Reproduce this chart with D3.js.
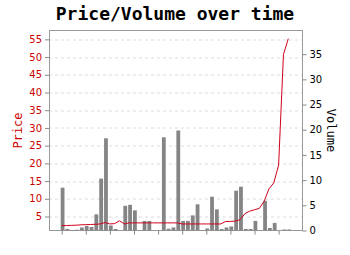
<!DOCTYPE html>
<html>
<head>
<meta charset="utf-8">
<script src="https://cdn.jsdelivr.net/npm/d3@7"></script>
<style>
  body { margin: 0; background: #fff; }
  svg { display: block; }
</style>
</head>
<body>
<div id="chart"></div>
<script>
// one entry per day, index = day number
const volume = [8.5, 0.3, 0.1, 0.15, 0.6, 0.9, 0.7, 3.2, 10.3, 18.3, 1.0, 0.3, 0, 4.9, 5.1, 4.0,
    0, 1.9, 1.9, 0, 0, 18.5, 0.35, 0.6, 19.85, 1.9, 1.9, 3.0, 5.2, 0.1, 0.4, 6.7,
    4.2, 0.3, 0.6, 0.8, 7.9, 8.7, 0.3, 0.3, 1.9, 0, 5.9, 0.5, 1.5, 0, 0.2, 0.2];
const price = [2.4, 2.45, 2.5, 2.55, 2.65, 2.7, 2.75, 2.8, 2.9, 3.3, 2.9, 3.0, 3.8, 2.9, 3.2, 3.2,
    3.2, 3.2, 3.2, 3.2, 3.2, 3.2, 3.2, 3.2, 3.2, 2.9, 2.9, 2.9, 2.9, 2.9, 2.9, 2.9,
    2.9, 2.9, 3.6, 3.6, 3.7, 4.1, 5.8, 6.5, 6.9, 7.3, 9.3, 12.8, 14.5, 19.5, 50.7, 55.2];
const days = d3.range(volume.length);
const priceTicks = [5, 10, 15, 20, 25, 30, 35, 40, 45, 50, 55];
const volumeTicks = [0, 5, 10, 15, 20, 25, 30, 35];

const W = 350, H = 255;
const margin = { top: 30.5, right: 48, bottom: 24.5, left: 49 };
const width = W - margin.left - margin.right;
const height = H - margin.top - margin.bottom;

const svg = d3.select("#chart").append("svg")
    .attr("width", W)
    .attr("height", H);

svg.append("text")
    .attr("x", W / 2)
    .attr("y", 20)
    .attr("text-anchor", "middle")
    .style("font-family", "'DejaVu Sans Mono', monospace")
    .style("font-weight", "bold")
    .style("font-size", "18px")
    .text("Price/Volume over time");

const g = svg.append("g")
    .attr("transform", "translate(" + margin.left + "," + margin.top + ")");

const x = d3.scaleLinear()
    .domain([-2.63, 49.85])
    .range([0, width]);

const yPrice = d3.scaleLinear()
    .domain([1.05, 57.5])
    .range([height, 0]);

const yVol = d3.scaleLinear()
    .domain([0, d3.max(volume) * 2])
    .range([height, 0]);

// grid
g.selectAll(".grid")
    .data(priceTicks)
    .enter().append("line")
    .attr("class", "grid")
    .attr("x1", 0)
    .attr("x2", width)
    .attr("y1", d => Math.round(yPrice(d)) + 0.5)
    .attr("y2", d => Math.round(yPrice(d)) + 0.5)
    .style("stroke", "#dcdcdc")
    .style("stroke-dasharray", "3,3");

// frame
g.append("rect")
    .attr("x", 0.5)
    .attr("y", 0)
    .attr("width", width)
    .attr("height", height)
    .style("fill", "none")
    .style("stroke", "#999");

// volume bars
const bw = 3.8;
g.selectAll(".bar")
    .data(days)
    .enter().append("rect")
    .attr("class", "bar")
    .attr("x", d => x(d) - 1)
    .attr("width", bw)
    .attr("y", d => yVol(volume[d]))
    .attr("height", d => height - yVol(volume[d]))
    .style("fill", "#858585");

// price line
const line = d3.line()
    .x(d => x(d))
    .y(d => yPrice(price[d]));

g.append("path")
    .datum(days)
    .attr("d", line)
    .style("fill", "none")
    .style("stroke", "#d0021b")
    .style("stroke-width", 1);

// axes
const styleAxis = (sel, color) => {
    sel.select(".domain").remove();
    sel.selectAll(".tick line").attr("stroke", "#888");
    sel.selectAll(".tick text")
        .attr("fill", color)
        .style("font-family", "'DejaVu Sans', sans-serif")
        .style("font-size", "10px");
};

g.append("g")
    .attr("transform", "translate(0," + height + ")")
    .call(d3.axisBottom(x).tickValues([0, 5, 10, 15, 20, 25, 30, 35, 40, 45]).tickFormat("").tickSize(4))
    .call(sel => styleAxis(sel, "#000"));

g.append("g")
    .call(d3.axisLeft(yPrice).tickValues(priceTicks).tickSize(4).tickPadding(3))
    .call(sel => styleAxis(sel, "#cc0000"));

g.append("g")
    .attr("transform", "translate(" + (width + 0.5) + ",0)")
    .call(d3.axisRight(yVol).tickValues(volumeTicks).tickSize(4).tickPadding(3))
    .call(sel => styleAxis(sel, "#000"));

// axis titles
svg.append("text")
    .attr("transform", "translate(22," + (margin.top + height / 2) + ") rotate(-90)")
    .attr("text-anchor", "middle")
    .style("font-family", "'DejaVu Sans Mono', monospace")
    .style("font-size", "12px")
    .attr("fill", "#cc0000")
    .text("Price");

svg.append("text")
    .attr("transform", "translate(327," + (margin.top + height / 2) + ") rotate(90)")
    .attr("text-anchor", "middle")
    .style("font-family", "'DejaVu Sans Mono', monospace")
    .style("font-size", "12px")
    .attr("fill", "#000")
    .text("Volume");
</script>
</body>
</html>
